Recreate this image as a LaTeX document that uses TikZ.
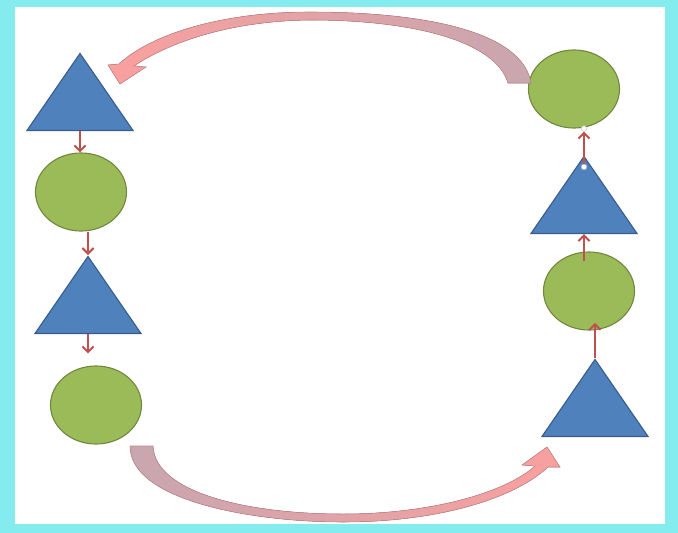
\documentclass[tikz,border=0pt]{standalone}
\usetikzlibrary{arrows.meta,shapes.geometric}
\definecolor{sky}{RGB}{132,236,238}
\definecolor{tri}{RGB}{79,129,189}
\definecolor{triedge}{RGB}{56,93,138}
\definecolor{leaf}{RGB}{155,187,89}
\definecolor{leafedge}{RGB}{113,137,63}
\definecolor{link}{RGB}{192,80,77}
\definecolor{mauve}{RGB}{200,166,176}
\definecolor{salmon}{RGB}{250,160,158}
\definecolor{bandedge}{RGB}{196,136,140}

\begin{document}
\begin{tikzpicture}[x=0.025cm,y=-0.025cm,
  >={Straight Barb[length=4pt,width=8pt]},
  triup/.style={isosceles triangle,isosceles triangle stretches,shape border rotate=90,
                minimum width=2.65cm,minimum height=1.925cm,inner sep=0pt,anchor=apex,
                fill=tri,draw=triedge,line width=0.8pt},
  disc/.style={ellipse,minimum width=2.275cm,minimum height=1.95cm,inner sep=0pt,
               fill=leaf,draw=leafedge,line width=0.8pt},
  steplink/.style={link,line width=1.4pt,->},
  handle/.style={circle,minimum size=4pt,inner sep=0pt,fill=white,draw=black!25,line width=0.3pt},
  band/.style={draw=bandedge,line width=0.4pt}
]
\useasboundingbox (0,0) rectangle (678,533);
% backdrop
\fill[sky] (0,0) rectangle (678,533);
\fill[white] (15,7) rectangle (665,524);

% left column, top to bottom
\node[triup] (lt1) at (80,52)  {};
\node[disc]  (lc1) at (81,192) {};
\node[triup] (lt2) at (88,255) {};
\node[disc]  (lc2) at (96,405) {};
% right column, bottom to top
\node[triup] (rt1) at (595,358) {};
\node[disc]  (rc1) at (589,291) {};
\node[triup] (rt2) at (584,155) {};
\node[disc]  (rc2) at (574,89)  {};

% short links
\draw[steplink] (lt1.lower side) -- (lt1.lower side |- lc1.north);
\draw[steplink] (lc1.south -| lt2.apex) -- (lt2.apex);
\draw[steplink,shorten >=8.5pt] (lt2.lower side) -- (lt2.lower side |- lc2.north);
\draw[steplink,shorten >=-5.5pt] (rt1.apex) -- (rt1.apex |- rc1.south);
\draw[steplink,shorten <=-7pt] (rc1.north -| rt2.lower side) -- (rt2.lower side);
\node[handle] (h1) at ([yshift=-8.5pt]rt2.apex) {};
\node[handle] (h2) at (h1 |- rc2.south) {};
\draw[steplink] (h1) -- (h2);

% curved block arrows
\filldraw[band,left color=salmon,right color=mauve]
  (531,83) .. controls (522,30) and (420,12) .. (310,12)
  .. controls (220,12) and (150,35) .. (119,64)
  -- (108,65) -- (120,84) -- (146,67) -- (134,66)
  .. controls (170,42) and (230,21) .. (310,20)
  .. controls (410,20) and (495,40) .. (508,83) -- cycle;
\filldraw[band,left color=mauve,right color=salmon]
  (130,446) .. controls (130,500) and (250,522) .. (343,522)
  .. controls (440,522) and (515,498) .. (548,467)
  -- (560,467) -- (547,447) -- (522,465) -- (535,466)
  .. controls (505,493) and (430,514) .. (343,514)
  .. controls (245,514) and (155,492) .. (153,446) -- cycle;
\end{tikzpicture}
\end{document}
